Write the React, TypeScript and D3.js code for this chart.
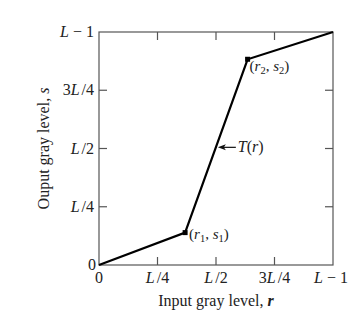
import React from "react";
import * as d3 from "d3";

const rValues = [0, 0.368, 0.635, 1];
const sValues = [0, 0.139, 0.883, 1];
const tickValues = [0, 0.25, 0.5, 0.75, 1];
const tickParts: [string, string, string][] = [
  ["0", "", ""],
  ["", "L", "/4"],
  ["", "L", "/2"],
  ["3", "L", "/4"],
  ["", "L", " − 1"],
];

const W = 356;
const H = 325;
const font = "'Liberation Serif', 'DejaVu Serif', serif";

function TickText({ parts, ...rest }: any) {
  const [a, b, c] = parts;
  return (
    <text {...rest}>
      {a && <tspan>{a}</tspan>}
      {b && <tspan fontStyle="italic">{b}</tspan>}
      {c && <tspan dx={c.startsWith("/") ? 2 : 0}>{c}</tspan>}
    </text>
  );
}

function PointLabel({ idx, ...rest }: any) {
  return (
    <text {...rest} fontSize={15} fill="#222">
      (<tspan fontStyle="italic">r</tspan>
      <tspan fontSize={10.5} dy={3}>{idx}</tspan>
      <tspan dy={-3}>, </tspan>
      <tspan fontStyle="italic">s</tspan>
      <tspan fontSize={10.5} dy={3}>{idx}</tspan>
      <tspan dy={-3}>)</tspan>
    </text>
  );
}

export default function App() {
  const x = d3.scaleLinear().domain([0, 1]).range([99, 333]);
  const y = d3.scaleLinear().domain([0, 1]).range([265, 32]);
  const pts = rValues.map((r, i) => [r, sValues[i]] as [number, number]);
  const line = d3
    .line<[number, number]>()
    .x((d) => x(d[0]))
    .y((d) => y(d[1]));
  const inner = [0.25, 0.5, 0.75];
  const tl = 8;
  const axisColor = "#555";
  const p1 = pts[1];
  const p2 = pts[2];
  const sMid = 0.505;
  const rMid = p1[0] + ((sMid - p1[1]) / (p2[1] - p1[1])) * (p2[0] - p1[0]);
  const ax = x(rMid) + 2;
  const ay = y(sMid);
  return (
    <svg
      width={W}
      height={H}
      style={{ position: "absolute", left: 0, top: 0, background: "#fff" }}
      fontFamily={font}
    >
      <rect x={x(0)} y={y(1)} width={x(1) - x(0)} height={y(0) - y(1)} fill="none" stroke={axisColor} strokeWidth={1.2} />
      {inner.map((v) => (
        <g key={"t" + v} stroke={axisColor} strokeWidth={1.2}>
          <line x1={x(v)} x2={x(v)} y1={y(0)} y2={y(0) - tl} />
          <line x1={x(v)} x2={x(v)} y1={y(1)} y2={y(1) + tl} />
          <line x1={x(0)} x2={x(0) + tl} y1={y(v)} y2={y(v)} />
          <line x1={x(1)} x2={x(1) - tl} y1={y(v)} y2={y(v)} />
        </g>
      ))}
      {tickValues.map((v, i) => (
        <TickText key={"xl" + i} parts={tickParts[i]} x={x(v) - (i === 4 ? 2 : 0)} y={283} textAnchor="middle" fontSize={16} fill="#222" />
      ))}
      {tickValues.map((v, i) => (
        <TickText key={"yl" + i} parts={tickParts[i]} x={i === 0 ? 96 : 94} y={y(v) + 5} textAnchor="end" fontSize={16} fill="#222" />
      ))}
      <path d={line(pts) || ""} fill="none" stroke="#000" strokeWidth={2.2} strokeLinejoin="miter" />
      {[p1, p2].map((p, i) => (
        <rect key={"pt" + i} x={x(p[0]) - 2.5} y={y(p[1]) - 2.5} width={5} height={5} fill="#000" />
      ))}
      <PointLabel idx="1" x={x(p1[0]) + 4} y={y(p1[1]) + 6} />
      <PointLabel idx="2" x={x(p2[0]) + 2} y={y(p2[1]) + 12} />
      <line x1={ax + 5} y1={ay} x2={ax + 18} y2={ay} stroke="#111" strokeWidth={1.2} />
      <path d={`M${ax},${ay} L${ax + 8},${ay - 3} L${ax + 6},${ay} L${ax + 8},${ay + 3} Z`} fill="#111" />
      <text x={ax + 20} y={ay + 5} fontSize={16} fill="#222">
        <tspan fontStyle="italic">T</tspan>(<tspan fontStyle="italic">r</tspan>)
      </text>
      <text x={216} y={306} textAnchor="middle" fontSize={16} fill="#222">
        Input gray level, <tspan fontStyle="italic" fontWeight="bold">r</tspan>
      </text>
      <text transform={`translate(49,${y(0.5)}) rotate(-90)`} textAnchor="middle" fontSize={16} fill="#222">
        Ouput gray level, <tspan fontStyle="italic">s</tspan>
      </text>
    </svg>
  );
}
